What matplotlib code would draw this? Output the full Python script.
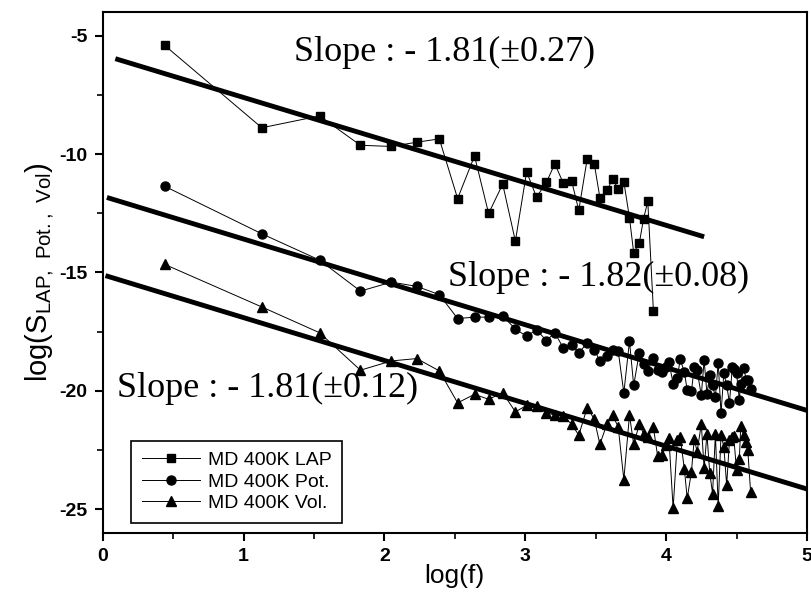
import matplotlib
matplotlib.use('Agg')
import matplotlib.pyplot as plt
import numpy as np

plt.rcParams['mathtext.fontset'] = 'custom'
plt.rcParams['mathtext.rm'] = 'Liberation Sans'
plt.rcParams['axes.unicode_minus'] = False

# log(f) positions
x_all = [0.44, 1.13, 1.54, 1.83, 2.05, 2.23, 2.39, 2.52, 2.64, 2.74, 2.84, 2.93,
         3.01, 3.08, 3.15, 3.21, 3.27, 3.33, 3.38, 3.44, 3.49, 3.53, 3.58, 3.62,
         3.66, 3.70, 3.74, 3.77, 3.81, 3.84, 3.87, 3.91, 3.94, 3.97, 4.00, 4.02,
         4.05, 4.08, 4.10, 4.13, 4.15, 4.18, 4.20, 4.22, 4.25, 4.27, 4.29, 4.31,
         4.33, 4.35, 4.37, 4.39, 4.41, 4.43, 4.45, 4.47, 4.48, 4.50, 4.52, 4.53,
         4.55, 4.57, 4.58, 4.60]

lap = [-5.41, -8.89, -8.39, -9.63, -9.68, -9.50, -9.36, -11.88, -10.08, -12.51,
       -11.27, -13.68, -10.75, -11.82, -11.20, -10.41, -11.23, -11.15, -12.38,
       -10.20, -10.41, -11.84, -11.54, -11.06, -11.47, -11.17, -12.69, -14.17,
       -13.76, -12.73, -12.00, -16.63]

pot = [-11.36, -13.37, -14.48, -15.79, -15.41, -15.59, -15.94, -16.95, -16.89,
       -16.89, -16.84, -17.39, -17.70, -17.42, -17.88, -17.55, -18.19, -18.05,
       -18.40, -17.98, -18.26, -18.74, -18.54, -18.29, -18.32, -20.09, -17.91,
       -19.77, -18.39, -18.88, -19.16, -18.60, -19.14, -19.21, -19.00, -18.78,
       -19.70, -19.45, -18.67, -19.21, -19.98, -20.01, -19.00, -19.14, -20.19,
       -18.71, -20.12, -19.35, -19.77, -20.26, -18.81, -20.96, -19.25, -19.77,
       -20.51, -19.00, -19.07, -19.25, -20.37, -19.70, -19.02, -19.56, -19.56,
       -19.91]

vol = [-14.66, -16.46, -17.55, -19.13, -18.74, -18.64, -19.16, -20.51, -20.15,
       -20.36, -20.08, -20.89, -20.62, -20.65, -20.94, -21.02, -21.08, -21.41,
       -21.88, -20.71, -21.20, -22.26, -21.41, -21.03, -21.53, -23.75, -21.03,
       -22.26, -21.41, -21.81, -21.95, -21.55, -22.76, -22.72, -22.30, -22.00,
       -24.97, -22.09, -21.95, -23.32, -24.55, -23.42, -22.02, -22.58, -21.41,
       -23.28, -21.83, -23.47, -24.34, -21.83, -24.87, -21.85, -22.37, -23.99,
       -22.09, -21.95, -21.92, -23.35, -22.90, -21.50, -21.88, -22.16, -22.50,
       -24.27]

# linear fits: (x start, x end, intercept, slope)
fit_lap = (0.09, 4.27, -5.81, -1.80)
fit_pot = (0.03, 5.0, -11.78, -1.81)
fit_vol = (0.02, 5.0, -15.10, -1.81)

fig = plt.figure(figsize=(8.11, 6), dpi=100)
ax = fig.add_axes([0.1266, 0.112, 0.8684, 0.868])

ax.plot(x_all[:len(lap)], lap, 'k-', lw=0.7, marker='s', ms=6, label='MD 400K LAP')
ax.plot(x_all, pot, 'k-', lw=0.7, marker='o', ms=6.5, label='MD 400K Pot.')
ax.plot(x_all, vol, 'k-', lw=0.7, marker='^', ms=7, label='MD 400K Vol.')

for x0, x1, b, m in [fit_lap, fit_pot, fit_vol]:
    xs = np.array([x0, x1])
    ax.plot(xs, b + m * xs, 'k-', lw=3.5, solid_capstyle='butt')

serif = 'Liberation Serif'
ax.text(2.43, -5.7, 'Slope : - 1.81(\u00b10.27)', fontsize=26, family=serif, ha='center', va='center')
ax.text(3.52, -15.2, 'Slope : - 1.82(\u00b10.08)', fontsize=26, family=serif, ha='center', va='center')
ax.text(1.17, -19.9, 'Slope : - 1.81(\u00b10.12)', fontsize=26, family=serif, ha='center', va='center')

ax.set_xlim(0, 5)
ax.set_ylim(-26, -4)
ax.set_xticks([0, 1, 2, 3, 4, 5])
ax.set_xticks(np.arange(0, 5.01, 0.5), minor=True)
ax.set_yticks([-25, -20, -15, -10, -5])
ax.set_yticks(np.arange(-25, -4, 2.5), minor=True)
ax.tick_params(which='major', direction='out', length=6, width=1.5, labelsize=14, pad=5)
ax.tick_params(which='minor', direction='out', length=4, width=1.2)
for lab in ax.get_xticklabels() + ax.get_yticklabels():
    lab.set_fontweight('bold')
    lab.set_family('Liberation Sans')
for s in ax.spines.values():
    s.set_linewidth(1.5)

ax.set_xlabel('log(f)', fontsize=19, family='Liberation Sans', labelpad=-1)
ax.set_ylabel(r'log(S$_{\rm LAP,\ Pot.,\ Vol}$)', fontsize=21, family='Liberation Sans', labelpad=2)

leg = ax.legend(loc='lower left', bbox_to_anchor=(0.04, 0.019), borderaxespad=0,
                fancybox=False, edgecolor='black', framealpha=1,
                prop={'family': 'Liberation Sans', 'size': 14},
                handlelength=3, labelspacing=0.2, borderpad=0.55, handletextpad=0.4)
leg.get_frame().set_linewidth(1.2)

plt.savefig('out.png', dpi=100)
